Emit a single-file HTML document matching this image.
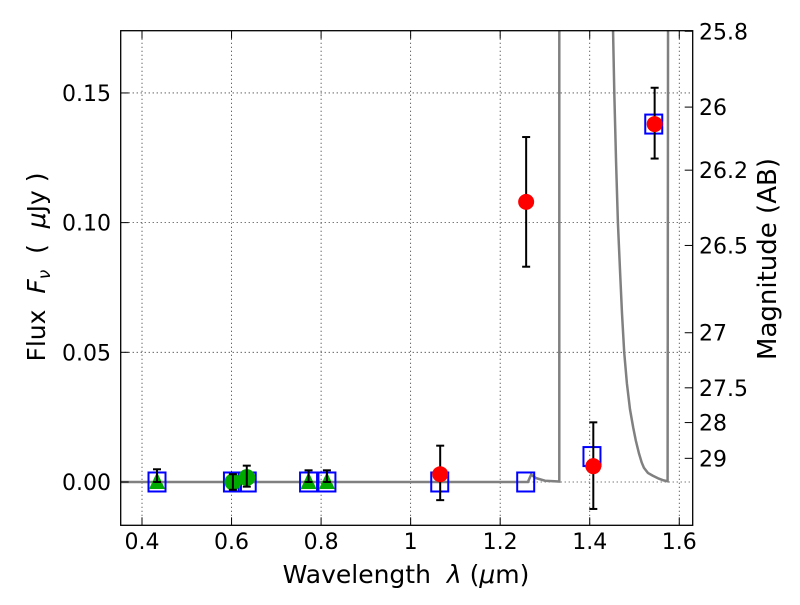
<!DOCTYPE html>
<html><head><meta charset="utf-8"><style>
body{margin:0;background:#fff}
svg{font-family:"DejaVu Sans","Liberation Sans",sans-serif}
</style></head><body>
<svg id="chart" width="800" height="600" viewBox="0 0 800 600">
<rect width="800" height="600" fill="#fff"/>
<g id="grid"></g>
<g id="model"></g>
<g id="marks"></g>
<rect x="120.7" y="30.7" width="572" height="494.6" fill="none" stroke="#000" stroke-width="1.3"/>
<g id="ticks"></g>
<text x="406" y="583" font-size="25" text-anchor="middle">Wavelength&#160;&#160;<tspan font-style="italic">λ</tspan>&#160;(<tspan font-style="italic">μ</tspan>m)</text>
<text transform="translate(45,267) rotate(-90)" font-size="25" text-anchor="middle">Flux&#160;&#160;<tspan font-style="italic">F</tspan><tspan font-style="italic" font-size="17" dy="5">ν</tspan><tspan dy="-5">&#160;&#160;(&#160;&#160;</tspan><tspan font-style="italic">μ</tspan>Jy&#160;)</text>
<text transform="translate(776,259) rotate(-90)" font-size="26" text-anchor="middle">Magnitude (AB)</text>
</svg>
<script>
const xTicks=[0.4,0.6,0.8,1.0,1.2,1.4,1.6];
const xTickLabels=["0.4","0.6","0.8","1","1.2","1.4","1.6"];
const yTicks=[0,0.05,0.10,0.15];
const yTickLabels=["0.00","0.05","0.10","0.15"];
const magTicks=[25.8,26,26.2,26.5,27,27.5,28,29];
const magTickLabels=["25.8","26","26.2","26.5","27","27.5","28","29"];
// model curve (wavelength, flux)
const modelX=[0.35,1.262,1.269,1.28,1.30,1.332,1.332,1.3325];
const modelY=[0,0,0.0028,0.0015,0.0005,0.0002,0.2,0.2];
const model2X=[1.450,1.452,1.455,1.459,1.463,1.468,1.472,1.477,1.483,1.490,1.497,1.503,1.510,1.516,1.521,1.530,1.540,1.554,1.565,1.574,1.575];
const model2Y=[0.2,0.175,0.15,0.123,0.1,0.08,0.065,0.05,0.038,0.028,0.021,0.016,0.011,0.0075,0.0055,0.0035,0.0025,0.0013,0.0006,0.0003,0.2];
// squares (model photometry)
const sqX=[0.4335,0.602,0.635,0.772,0.813,1.065,1.257,1.405,1.543];
const sqY=[0,0,0,0,0,0,0,0.0098,0.138];
// green triangles
const triX=[0.4335,0.772,0.813];
const triY=[0,0,0];
const triHi=[0.0049,0.0045,0.0045];
const triLo=[0,0,0];
// green circles
const gcX=[0.603,0.634];
const gcY=[0,0.0017];
const gcHi=[0.003,0.0063];
const gcLo=[-0.003,-0.0018];
// red circles
const rcX=[1.066,1.258,1.408,1.545];
const rcY=[0.003,0.108,0.0061,0.138];
const rcHi=[0.014,0.133,0.023,0.152];
const rcLo=[-0.007,0.083,-0.0104,0.1247];

const NS="http://www.w3.org/2000/svg";
const L=120.7,R=692.7,T=30.7,B=525.3;
const xmin=0.3524,xmax=1.63,ymin=-0.0167,ymax=0.174;
function sx(v){return L+(v-xmin)/(xmax-xmin)*(R-L);}
function sy(v){return B-(v-ymin)/(ymax-ymin)*(B-T);}
function magToFlux(m){return Math.pow(10,-0.4*(m-23.9));}
function mk(tag,attrs,parent){const e=document.createElementNS(NS,tag);for(const k in attrs)e.setAttribute(k,attrs[k]);parent.appendChild(e);return e;}
const grid=document.getElementById('grid'),ticks=document.getElementById('ticks'),marks=document.getElementById('marks'),model=document.getElementById('model');

xTicks.forEach((v,i)=>{
 const x=sx(v);
 let g=mk('line',{x1:x,x2:x,y1:T,y2:B,stroke:'#000','stroke-width':0.8,'stroke-dasharray':'1,3'},grid);
 
 
 let t=mk('line',{x1:x,x2:x,y1:B,y2:B-8,stroke:'#000','stroke-width':1},ticks);
 
 
 let t2=mk('line',{x1:x,x2:x,y1:T,y2:T+8,stroke:'#000','stroke-width':1},ticks);
 
 
 let lb=mk('text',{x:x,y:549,'font-size':22,'text-anchor':'middle'},ticks);
 lb.textContent=xTickLabels[i];
 
 
});
yTicks.forEach((v,i)=>{
 const y=sy(v);
 let g=mk('line',{x1:L,x2:R,y1:y,y2:y,stroke:'#000','stroke-width':0.8,'stroke-dasharray':'1,3'},grid);
 
 
 let t=mk('line',{x1:L,x2:L+8,y1:y,y2:y,stroke:'#000','stroke-width':1},ticks);
 
 
 let lb=mk('text',{x:111,y:y+8,'font-size':22,'text-anchor':'end'},ticks);
 lb.textContent=yTickLabels[i];
 
 
});
magTicks.forEach((m,i)=>{
 const y=sy(magToFlux(m));
 let t=mk('line',{x1:R,x2:R-8,y1:y,y2:y,stroke:'#000','stroke-width':1},ticks);
 
 
 let lb=mk('text',{x:699,y:y+8,'font-size':22},ticks);
 lb.textContent=magTickLabels[i];
 
 
});

const cp=mk('clipPath',{id:'clip'},document.getElementById('chart'));
mk('rect',{x:L,y:T,width:R-L,height:B-T},cp);
model.setAttribute('clip-path','url(#clip)');
function poly(xs,ys){return xs.map((v,i)=>sx(v).toFixed(1)+','+sy(ys[i]).toFixed(1)).join(' ');}
let m1=mk('polyline',{points:poly(modelX,modelY),fill:'none',stroke:'#808080','stroke-width':2.5},model);


let m2=mk('polyline',{points:poly(model2X,model2Y),fill:'none',stroke:'#808080','stroke-width':2.5},model);



function errbar(x,lo,hi){
 const X=sx(x),y1=sy(lo),y2=sy(hi);
 let l=mk('line',{x1:X,x2:X,y1:y1,y2:y2,stroke:'#000','stroke-width':2},marks);
 
 
 [y1,y2].forEach(y=>{let c=mk('line',{x1:X-4,x2:X+4,y1:y,y2:y,stroke:'#000','stroke-width':2},marks);
 
 });
}
sqX.forEach((v,i)=>{
 let r=mk('rect',{x:sx(v)-8.5,y:sy(sqY[i])-9.5,width:17,height:19,fill:'none',stroke:'#0000ff','stroke-width':2},marks);
 
 
});
triX.forEach((v,i)=>{
 const x=sx(v),y=sy(triY[i]);
 let p=mk('polygon',{points:`${x},${y-10} ${x-8},${y+7} ${x+8},${y+7}`,fill:'#00aa00'},marks);
 
 
 errbar(v,triLo[i],triHi[i]);
});
gcX.forEach((v,i)=>{
 let c=mk('circle',{cx:sx(v),cy:sy(gcY[i]),r:8.5,fill:'#00aa00'},marks);
 
 
 errbar(v,gcLo[i],gcHi[i]);
});
rcX.forEach((v,i)=>{
 errbar(v,rcLo[i],rcHi[i]);
 let c=mk('circle',{cx:sx(v),cy:sy(rcY[i]),r:8,fill:'#ff0000'},marks);
 
 
});
</script>
</body></html>
